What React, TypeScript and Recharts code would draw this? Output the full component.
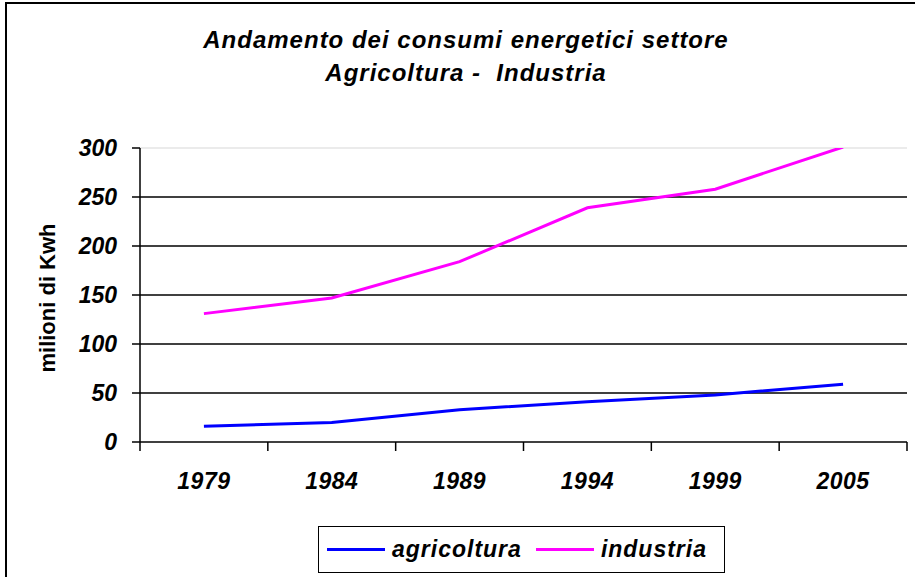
import React from 'react';
import {
  LineChart,
  Line,
  XAxis,
  YAxis,
  CartesianGrid,
  ReferenceLine,
  Legend,
} from 'recharts';

const years = ['1979', '1984', '1989', '1994', '1999', '2005'];
const agricoltura = [16, 20, 33, 41, 48, 59];
const industria = [131, 147, 184, 239, 258, 301];
const yTicks = [0, 50, 100, 150, 200, 250, 300];
const gridValues = [50, 100, 150, 200, 250];
const titleLines = ['Andamento dei consumi energetici settore', 'Agricoltura -  Industria'];
const yTitle = 'milioni di Kwh';

const data = years.map((y, i) => ({
  year: y,
  agricoltura: agricoltura[i],
  industria: industria[i],
}));

const FONT = '"Liberation Sans", Arial, sans-serif';

const XTick = (props: any) => {
  const { x, y, payload } = props;
  const off = payload && typeof payload.offset === 'number' ? payload.offset : 0;
  const isLast = payload.value === years[years.length - 1];
  return (
    <g>
      <line x1={x - off} x2={x - off} y1={y} y2={y + 9} stroke="#000" strokeWidth={1.5} />
      {isLast && <line x1={x + off} x2={x + off} y1={y} y2={y + 9} stroke="#000" strokeWidth={1.5} />}
      <text
        x={x}
        y={y + 47}
        textAnchor="middle"
        fill="#000"
        style={{ fontFamily: FONT, fontSize: 23, fontWeight: 'bold', fontStyle: 'italic', letterSpacing: 0.5 }}
      >
        {payload.value}
      </text>
    </g>
  );
};

const YLabel = (props: any) => {
  const vb = props.viewBox || { x: 0, y: 0, width: 0, height: 0 };
  const cx = vb.x + 55;
  const cy = vb.y + vb.height / 2 + 3;
  return (
    <text
      x={cx}
      y={cy}
      transform={`rotate(-90, ${cx}, ${cy})`}
      textAnchor="middle"
      fill="#000"
      style={{ fontFamily: FONT, fontSize: 22, fontWeight: 'bold' }}
    >
      {yTitle}
    </text>
  );
};

const LegendContent = (props: any) => {
  const payload = props.payload || [];
  return (
    <div
      style={{
        boxSizing: 'border-box',
        width: '100%',
        height: '100%',
        border: '1.5px solid #000',
        display: 'flex',
        alignItems: 'center',
        paddingLeft: 8,
        fontFamily: FONT,
        fontSize: 23,
        fontWeight: 'bold',
        fontStyle: 'italic',
        letterSpacing: 1,
        color: '#000',
      }}
    >
      {payload.map((p: any, i: number) => (
        <div key={i} style={{ display: 'flex', alignItems: 'center', marginRight: i === 0 ? 14 : 0 }}>
          <div style={{ width: 58, height: 3, background: p.color, marginRight: 7 }} />
          <span>{p.value}</span>
        </div>
      ))}
    </div>
  );
};

export default function App() {
  return (
    <div
      style={{
        position: 'absolute',
        left: 0,
        top: 0,
        width: 915,
        height: 577,
        overflow: 'hidden',
        background: '#fff',
      }}
    >
      <div
        style={{
          position: 'absolute',
          left: 5,
          top: 2,
          width: 1000,
          height: 1000,
          border: '2px solid #000',
        }}
      />
      <div
        style={{
          position: 'absolute',
          left: 0,
          top: 23,
          width: 932,
          textAlign: 'center',
          fontFamily: FONT,
          fontSize: 24,
          lineHeight: '33px',
          fontWeight: 'bold',
          fontStyle: 'italic',
          letterSpacing: 1,
          color: '#000',
          zIndex: 2,
        }}
      >
        {titleLines.map((t, i) => (
          <div key={i} style={{ whiteSpace: 'pre' }}>{t}</div>
        ))}
      </div>
      <div style={{ position: 'absolute', left: 0, top: 0 }}>
        <LineChart
          width={915}
          height={577}
          data={data}
          margin={{ top: 148, right: 8, bottom: 75, left: 0 }}
        >
          <CartesianGrid
            vertical={false}
            horizontal={true}
            horizontalValues={gridValues}
            stroke="#000"
            strokeWidth={1.5}
          />
          <ReferenceLine y={300} stroke="#e4e4e4" strokeWidth={1.5} />
          <XAxis
            dataKey="year"
            scale="band"
            padding={{ left: 0, right: 0 }}
            height={60}
            axisLine={{ stroke: '#000', strokeWidth: 1.5 }}
            tickLine={false}
            tickSize={0}
            tickMargin={0}
            interval={0}
            tick={<XTick />}
          />
          <YAxis
            width={140}
            domain={[0, 300]}
            ticks={yTicks}
            allowDataOverflow={true}
            interval={0}
            axisLine={{ stroke: '#000', strokeWidth: 1.5 }}
            tickLine={{ stroke: '#000', strokeWidth: 1.5 }}
            tickSize={8}
            tickMargin={15}
            tick={{ fill: '#000', fontFamily: FONT, fontSize: 23, fontWeight: 'bold', fontStyle: 'italic' }}
            label={{ content: <YLabel /> }}
          />
          <Legend
            layout="horizontal"
            verticalAlign="middle"
            align="center"
            wrapperStyle={{ position: 'absolute', left: 318, top: 526, width: 407, height: 47 }}
            content={<LegendContent />}
          />
          <Line
            type="linear"
            dataKey="agricoltura"
            name="agricoltura"
            stroke="#0000FF"
            strokeWidth={3}
            dot={false}
            activeDot={false}
            isAnimationActive={false}
          />
          <Line
            type="linear"
            dataKey="industria"
            name="industria"
            stroke="#FF00FF"
            strokeWidth={3}
            dot={false}
            activeDot={false}
            isAnimationActive={false}
          />
        </LineChart>
      </div>
    </div>
  );
}
